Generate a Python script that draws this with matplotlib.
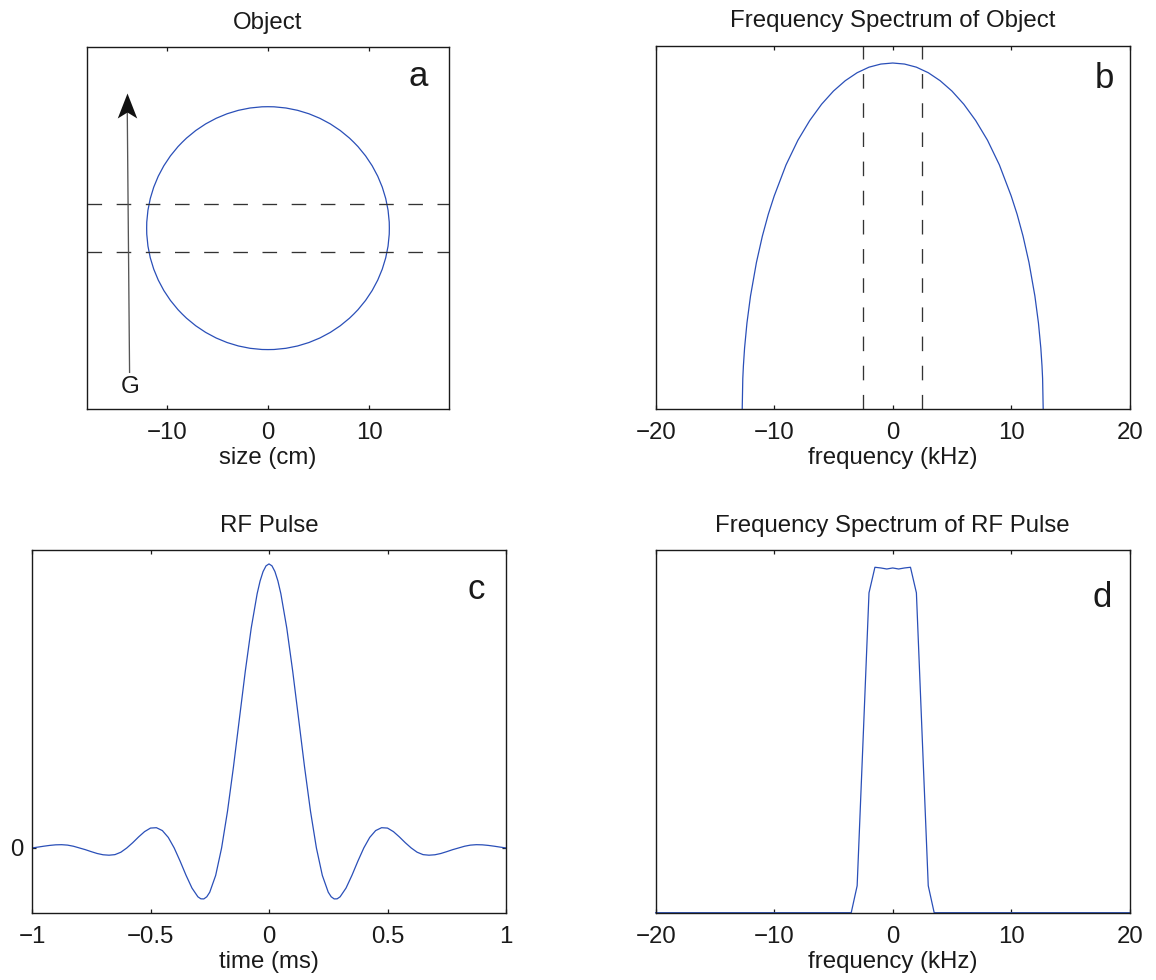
import numpy as np
import matplotlib
matplotlib.use("Agg")
import matplotlib.pyplot as plt
from matplotlib.patches import Circle
from matplotlib.path import Path

plt.rcParams['font.family'] = ['Liberation Sans', 'DejaVu Sans']
plt.rcParams['axes.unicode_minus'] = True
plt.rcParams['lines.scale_dashes'] = False

# ---------------- data ----------------
# (a) object: circle of radius 12 cm centred at 0, slice edges (cm)
circle_center = (0.0, 0.0)
circle_radius_cm = 12.0
slice_cm = [2.36, -2.36]

# (b) frequency spectrum of object (kHz, relative amplitude)
spec_obj_f = [-12.7, -12.65, -12.6, -12.5, -12.3, -12.0, -11.5, -11.0, -10.5, -10.0,
              -9.0, -8.0, -7.0, -6.0, -5.0, -4.0, -3.0, -2.0, -1.0, 0.0,
              1.0, 2.0, 3.0, 4.0, 5.0, 6.0, 7.0, 8.0, 9.0, 10.0,
              10.5, 11.0, 11.5, 12.0, 12.3, 12.5, 12.6, 12.65, 12.7]
spec_obj_a = [0.0, 0.089, 0.125, 0.177, 0.249, 0.327, 0.424, 0.500, 0.563, 0.616,
              0.706, 0.777, 0.834, 0.881, 0.919, 0.949, 0.972, 0.988, 0.997, 1.0,
              0.997, 0.988, 0.972, 0.949, 0.919, 0.881, 0.834, 0.777, 0.706, 0.616,
              0.563, 0.500, 0.424, 0.327, 0.249, 0.177, 0.125, 0.089, 0.0]
slice_khz = [-2.5, 2.5]

# (c) RF pulse (ms, relative amplitude) -- right half, mirrored about t = 0
rf_t_half = [0.0, 0.0125, 0.025, 0.0375, 0.05, 0.075, 0.1, 0.125, 0.15, 0.175, 0.2,
             0.225, 0.25, 0.2625, 0.275, 0.2875, 0.3, 0.325, 0.35, 0.375, 0.4,
             0.425, 0.45, 0.475, 0.5, 0.525, 0.55, 0.575, 0.6,
             0.625, 0.65, 0.675, 0.7, 0.725, 0.75, 0.775, 0.8,
             0.825, 0.85, 0.875, 0.9, 0.925, 0.95, 0.975, 1.0]
rf_a_half = [1.0, 0.9932, 0.9731, 0.9402, 0.8952, 0.7742, 0.6223, 0.4541, 0.2851, 0.1298, 0.0,
             -0.0966, -0.1558, -0.1719, -0.1794, -0.1791, -0.1720, -0.1412, -0.0963, -0.0465, 0.0,
             0.0371, 0.0612, 0.0713, 0.0700, 0.0575, 0.0390, 0.0185, 0.0,
             -0.0150, -0.0235, -0.0255, -0.0240, -0.0195, -0.0130, -0.0060, 0.0,
             0.0060, 0.0100, 0.0115, 0.0110, 0.0090, 0.0062, 0.0030, 0.0]

# (d) frequency spectrum of RF pulse (kHz, relative amplitude)
spec_rf_f = [-20.0, -3.5, -3.0, -2.5, -2.0, -1.5, -1.0, -0.5, 0.0, 0.5, 1.0, 1.5, 2.0, 2.5, 3.0, 3.5, 20.0]
spec_rf_a = [0.0, 0.0, 0.078, 0.50, 0.926, 1.0, 0.998, 0.995, 0.998, 0.995, 0.998, 1.0, 0.926, 0.50, 0.078, 0.0, 0.0]

titles = ["Object", "Frequency Spectrum of Object", "RF Pulse", "Frequency Spectrum of RF Pulse"]
xlabels = ["size (cm)", "frequency (kHz)", "time (ms)", "frequency (kHz)"]
letters = ["a", "b", "c", "d"]

# ---------------- style ----------------
BLUE = '#2a4fb8'
TXT = '#1a1a1a'
FS = 17.3
W, H = 1156, 980

fig = plt.figure(figsize=(W / 100, H / 100), dpi=100)

def px_axes(left, top, right, bottom):
    return fig.add_axes([left / W, 1 - bottom / H, (right - left) / W, (bottom - top) / H])

axA = px_axes(87, 47, 449, 409.3)
axB = px_axes(655.7, 45.7, 1129.7, 409.3)
axC = px_axes(32, 550, 506, 913)
axD = px_axes(655.7, 550, 1129.7, 912.7)
axes = [axA, axB, axC, axD]

for ax in axes:
    for s in ax.spines.values():
        s.set_linewidth(1.0)
        s.set_color(TXT)
    ax.tick_params(direction='in', length=3, width=0.9, top=True, right=True,
                   labelsize=FS, colors=TXT, pad=9.5)

# (a)
axA.add_patch(Circle(circle_center, circle_radius_cm, fill=False, edgecolor=BLUE, linewidth=0.9))
for y in slice_cm:
    axA.axhline(y, color='#333333', linewidth=0.95, dashes=(10.5, 10.5))
axA.set_xlim(-17.9, 17.9)
axA.set_ylim(-17.9, 17.9)
axA.set_xticks([-10, 0, 10])
axA.set_yticks([])
# gradient arrow "G"
tip = (-13.92, 13.38)
tail = (-13.69, -14.25)
axA.plot([tail[0], tip[0]], [tail[1], tip[1] - 1.6], color='#555555', linewidth=0.95)
head = Path([(0, 0), (0.39, -1), (0, -0.76), (-0.39, -1), (0, 0)],
            [Path.MOVETO, Path.LINETO, Path.LINETO, Path.LINETO, Path.CLOSEPOLY])
axA.plot([tip[0]], [tip[1]], marker=head, markersize=36, color='#111111',
         markeredgewidth=0, linestyle='none')
axA.text(-13.66, -15.7, "G", fontsize=FS, color=TXT, ha='center', va='center')

# (b)
axB.plot(spec_obj_f, spec_obj_a, color=BLUE, linewidth=0.9)
for x in slice_khz:
    axB.axvline(x, color='#333333', linewidth=0.95, dashes=(10.5, 10.5))
axB.set_xlim(-20, 20)
axB.set_ylim(0, 1.05)
axB.set_xticks([-20, -10, 0, 10, 20])
axB.set_yticks([])

# (c)
rf_t = [-t for t in rf_t_half[:0:-1]] + rf_t_half
rf_a = rf_a_half[:0:-1] + rf_a_half
axC.plot(rf_t, rf_a, color=BLUE, linewidth=0.9)
axC.set_xlim(-1, 1)
axC.set_ylim(-0.229, 1.049)
axC.set_xticks([-1, -0.5, 0, 0.5, 1])
axC.set_xticklabels(["\u22121", "\u22120.5", "0", "0.5", "1"])
axC.set_yticks([0])
axC.set_yticklabels(["0"])
axC.tick_params(axis='y', pad=6)

# (d)
axD.plot(spec_rf_f, spec_rf_a, color=BLUE, linewidth=0.9, clip_on=False)
axD.set_xlim(-20, 20)
axD.set_ylim(0, 1.05)
axD.set_xticks([-20, -10, 0, 10, 20])
axD.set_yticks([])

letter_pos = [(0.914, 0.892), (0.946, 0.883), (0.938, 0.865), (0.942, 0.844)]
for ax, t, xl, lt, lp in zip(axes, titles, xlabels, letters, letter_pos):
    ax.set_title(t, fontsize=FS, color=TXT, pad=13.3)
    ax.set_xlabel(xl, fontsize=FS, color=TXT, labelpad=2)
    ax.text(lp[0], lp[1], lt, transform=ax.transAxes, fontsize=25, color=TXT,
            ha='center', va='baseline')

fig.savefig("out.png", dpi=100)
